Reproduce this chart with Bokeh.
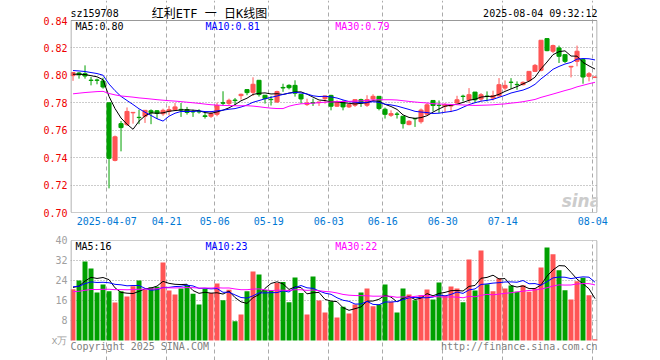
import numpy as np
import pandas as pd
from bokeh.plotting import figure
from bokeh.layouts import column
from bokeh.models import (Range1d, FixedTicker, NumeralTickFormatter, Label,
                          Grid, ColumnDataSource)
from bokeh.embed import file_html
from bokeh.resources import INLINE

# ---------------- data ----------------
holidays = ["2025-04-04", "2025-05-01", "2025-05-02", "2025-05-05", "2025-06-02"]
dates = [d.strftime("%Y-%m-%d") for d in pd.bdate_range("2025-03-27", "2025-08-04")
         if d.strftime("%Y-%m-%d") not in holidays]

tick_dates = ["2025-04-07", "2025-04-21", "2025-05-06", "2025-05-19", "2025-06-03",
              "2025-06-16", "2025-06-30", "2025-07-14", "2025-08-04"]
tick_labels = ["2025-04-07", "04-21", "05-06", "05-19", "06-03",
               "06-16", "06-30", "07-14", "08-04"]

opens = [.7998, .8017, .8012, .7965, .7966, .7959, .7800, .7380, .7648, .7641,
         .7727, .7694, .7702, .7742, .7742, .7720, .7738, .7750, .7752, .7750,
         .7737, .7737, .7705, .7702, .7716, .7800, .7794, .7820, .7852, .7896,
         .7876, .7964, .7855, .7825, .7806, .7912, .7927, .7927, .7862, .7787,
         .7801, .7801, .7830, .7854, .7775, .7806, .7770, .7782, .7823, .7782,
         .7828, .7847, .7753, .7709, .7718, .7702, .7641, .7686, .7662, .7717,
         .7817, .7782, .7775, .7776, .7798, .7848, .7822, .7878, .7827, .7849,
         .7834, .7851, .7907, .7950, .7934, .7932, .7961, .8029, .8037, .8268,
         .8176, .8200, .8151, .8061, .8102, .8115, .7993, .7985]
highs = [.8025, .8024, .8073, .7988, .7976, .7983, .7802, .7561, .7667, .7766,
         .7730, .7750, .7745, .7752, .7747, .7757, .7777, .7799, .7799, .7770,
         .7750, .7753, .7733, .7740, .7801, .7884, .7830, .7835, .7867, .7896,
         .7986, .7964, .7855, .7850, .7888, .7939, .7935, .7964, .7862, .7830,
         .7830, .7806, .7850, .7858, .7818, .7818, .7794, .7823, .7830, .7855,
         .7862, .7847, .7765, .7745, .7733, .7702, .7673, .7686, .7758, .7798,
         .7817, .7817, .7798, .7780, .7851, .7859, .7907, .7878, .7871, .7883,
         .7888, .7980, .7963, .7980, .7956, .7956, .8029, .8083, .8256, .8268,
         .8224, .8217, .8151, .8066, .8217, .8115, .8024, .7993]
lows = [.7960, .7976, .7976, .7927, .7935, .7903, .7176, .7373, .7446, .7631,
        .7648, .7644, .7653, .7644, .7682, .7705, .7709, .7745, .7697, .7714,
        .7697, .7721, .7685, .7690, .7702, .7777, .7782, .7782, .7823, .7855,
        .7850, .7845, .7794, .7780, .7799, .7880, .7898, .7845, .7794, .7777,
        .7777, .7777, .7794, .7745, .7770, .7745, .7762, .7770, .7770, .7770,
        .7818, .7745, .7685, .7697, .7685, .7612, .7636, .7624, .7648, .7712,
        .7737, .7724, .7732, .7732, .7798, .7810, .7798, .7798, .7810, .7810,
        .7817, .7846, .7890, .7902, .7895, .7927, .7956, .8024, .8029, .8176,
        .8163, .8090, .8090, .7985, .8066, .7939, .7956, .7980]
closes = [.8020, .8005, .7995, .7963, .7964, .7915, .7395, .7552, .7619, .7737,
          .7730, .7692, .7745, .7728, .7723, .7745, .7750, .7770, .7748, .7730,
          .7733, .7733, .7700, .7721, .7780, .7797, .7818, .7816, .7862, .7874,
          .7935, .7860, .7830, .7823, .7882, .7908, .7910, .7870, .7828, .7799,
          .7799, .7806, .7850, .7775, .7801, .7770, .7787, .7823, .7799, .7823,
          .7847, .7758, .7716, .7721, .7716, .7648, .7665, .7683, .7747, .7785,
          .7780, .7780, .7785, .7780, .7822, .7846, .7859, .7822, .7859, .7846,
          .7851, .7932, .7927, .7949, .7932, .7949, .8029, .8073, .8256, .8180,
          .8217, .8139, .8102, .8066, .8176, .7988, .8012, .7988]
volumes = [20.5, 24.0, 31.6, 28.8, 19.2, 22.4, 19.7, 15.2, 19.7, 17.6,
           21.7, 24.0, 20.3, 21.3, 21.5, 31.2, 20.0, 18.4, 20.8, 22.0,
           18.7, 14.4, 20.6, 19.0, 22.8, 16.1, 20.3, 7.7, 10.4, 19.7,
           27.6, 26.4, 20.2, 20.2, 23.0, 23.4, 15.3, 25.2, 19.0, 10.4,
           25.6, 16.0, 11.2, 15.7, 9.2, 13.5, 10.8, 14.4, 19.2, 20.8,
           13.7, 14.4, 22.4, 15.5, 11.2, 20.8, 18.4, 16.1, 18.1, 20.4,
           16.4, 23.2, 18.1, 21.6, 20.8, 15.3, 32.4, 20.0, 36.0, 22.5,
           19.7, 24.9, 20.8, 22.0, 19.5, 22.1, 19.5, 20.8, 29.2, 37.2,
           34.5, 28.1, 20.1, 16.4, 23.7, 25.1, 18.1, 0.5]

price_ma_prior = {5: 0.8005, 10: 0.8037, 30: 0.7860}
vol_ma_prior = {5: 21.4, 10: 21.6, 30: 19.5}

price_ma_text = ["MA5:0.80", "MA10:0.81", "MA30:0.79"]
vol_ma_text = ["MA5:16", "MA10:23", "MA30:22"]

price_ticks = [0.70, 0.72, 0.74, 0.76, 0.78, 0.80, 0.82, 0.84]
vol_ticks = [0, 8, 16, 24, 32, 40]

# ---------------- helpers ----------------
RED, GREEN = "#ff5555", "#00a000"
MONO = "DejaVu Sans Mono"
MA_COLORS = ["#000000", "#0000ff", "#ff00ff"]
BORDER = "#999999"


def moving_avg(vals, n, prior):
    ext = np.concatenate([np.full(n - 1, prior), np.asarray(vals, dtype=float)])
    return np.convolve(ext, np.ones(n) / n, mode="valid")


n = len(dates)
idx = np.arange(n)
xc = idx + 0.37  # candle centre, slightly right of the date grid line
up = np.array(closes) >= np.array(opens)
colors = [RED if u else GREEN for u in up]
tick_idx = [dates.index(d) for d in tick_dates]

src = ColumnDataSource(dict(
    x=xc, open=opens, high=highs, low=lows, close=closes,
    top=np.maximum(opens, closes), bottom=np.minimum(opens, closes),
    vol=volumes, color=colors))

PX_X = 6.0                      # px per session
XR = Range1d(-0.05, -0.05 + 527 / PX_X)
PX_P = 192 / (price_ticks[-1] - price_ticks[0])   # px per price unit
PX_V = 100 / (vol_ticks[-1] - vol_ticks[0])       # px per volume unit


def clean_axis(ax, color):
    ax.axis_line_color = None
    ax.major_tick_line_color = None
    ax.minor_tick_line_color = None
    ax.major_tick_out = 0
    ax.major_tick_in = 0
    ax.major_label_text_color = color
    ax.major_label_text_font = MONO
    ax.major_label_text_font_size = "10px"


def box(fig, lo, hi):
    fig.quad(left=XR.start + 0.5 / PX_X, right=XR.end - 0.5 / PX_X, bottom=lo, top=hi,
             fill_color=None, line_color=BORDER, line_width=1)


# ---------------- main price chart (frame extended up to hold the header) ----------------
p_top = price_ticks[-1] + 20 / PX_P
p = figure(width=660, height=232, x_range=XR, y_range=Range1d(price_ticks[0], p_top),
           output_backend="svg", toolbar_location=None, title=None,
           min_border_left=70, min_border_right=63, min_border_top=0,
           min_border_bottom=20)
p.background_fill_color = "white"
p.border_fill_color = "white"
p.outline_line_color = None

p.yaxis.ticker = FixedTicker(ticks=price_ticks)
p.yaxis.formatter = NumeralTickFormatter(format="0.00")
clean_axis(p.yaxis, "#ee0000")
p.yaxis.major_label_standoff = 3

p.xaxis.ticker = FixedTicker(ticks=tick_idx)
p.xaxis.major_label_overrides = {i: t for i, t in zip(tick_idx, tick_labels)}
clean_axis(p.xaxis, "#0078d4")
p.xaxis.major_label_standoff = 4

p.grid.visible = False
p.add_layout(Grid(dimension=0, ticker=FixedTicker(ticks=tick_idx),
                  bounds=(price_ticks[0], price_ticks[-1]),
                  grid_line_color="#aaaaaa", grid_line_dash="4 3", grid_line_width=1))
p.add_layout(Grid(dimension=1, ticker=FixedTicker(ticks=price_ticks[1:-1]),
                  grid_line_color="#999999", grid_line_dash="1 2", grid_line_width=1))

p.segment(x0="x", y0="low", x1="x", y1="high", line_color="color", line_width=1, source=src)
p.vbar(x="x", width=0.68, top="top", bottom="bottom", fill_color="color",
       line_color="color", line_width=1, source=src)

for (win, col) in zip((5, 10, 30), MA_COLORS):
    p.line(xc, moving_avg(closes, win, price_ma_prior[win]), line_color=col, line_width=1)

box(p, price_ticks[0], price_ticks[-1])

top_y = price_ticks[-1] + 7 / PX_P
p.add_layout(Label(x=XR.start, y=top_y, text="sz159708", text_font=MONO, text_font_size="10px",
                   text_color="black", text_align="left", text_baseline="middle"))
p.add_layout(Label(x=23.12, y=top_y, text="红利ETF 一 日K线图",
                   text_font="DejaVu Sans Mono, Noto Sans CJK SC",
                   text_font_size="12px", text_color="black", text_align="center",
                   text_baseline="middle"))
p.add_layout(Label(x=XR.end, y=top_y, text="2025-08-04 09:32:12", text_font=MONO,
                   text_font_size="10px", text_color="black", text_align="right",
                   text_baseline="middle"))
ma_y = price_ticks[-1] - 6 / PX_P
for txt, xx, col in zip(price_ma_text, (0.78, 22.45, 44.07), MA_COLORS):
    p.add_layout(Label(x=xx, y=ma_y, text=txt, text_font=MONO, text_font_size="10px",
                       text_color=col, text_align="left", text_baseline="middle"))
p.add_layout(Label(x=85.1, y=price_ticks[0] + 12 / PX_P, text="sina", text_font="DejaVu Sans",
                   text_font_style="bold italic", text_font_size="17px",
                   text_color="#cccccc", text_align="center", text_baseline="middle"))

# ---------------- volume chart (frame extended down to hold the footer) ----------------
v_bottom = vol_ticks[0] - 20 / PX_V
v = figure(width=660, height=128, x_range=XR, y_range=Range1d(v_bottom, vol_ticks[-1]),
           output_backend="svg", toolbar_location=None, title=None,
           x_axis_location=None,
           min_border_left=70, min_border_right=63, min_border_top=8,
           min_border_bottom=0)
v.background_fill_color = "white"
v.border_fill_color = "white"
v.outline_line_color = None

v.yaxis.ticker = FixedTicker(ticks=vol_ticks)
v.yaxis.major_label_overrides = {0: "x万"}
clean_axis(v.yaxis, "#a0a0a0")
v.yaxis.major_label_standoff = 3

v.grid.visible = False
v.add_layout(Grid(dimension=0, ticker=FixedTicker(ticks=tick_idx),
                  bounds=(vol_ticks[0], vol_ticks[-1]),
                  grid_line_color="#aaaaaa", grid_line_dash="4 3", grid_line_width=1))
v.add_layout(Grid(dimension=1, ticker=FixedTicker(ticks=vol_ticks[1:-1]),
                  grid_line_color="#999999", grid_line_dash="1 2", grid_line_width=1))

v.vbar(x="x", width=0.83, top="vol", bottom=0, fill_color="color", line_color=None, source=src)
for (win, col) in zip((5, 10, 30), MA_COLORS):
    v.line(xc, moving_avg(volumes, win, vol_ma_prior[win]), line_color=col, line_width=1)

# top / left / right border of the volume panel (no bottom line in the reference)
v.segment(x0=[XR.start + 0.5 / PX_X, XR.start + 0.5 / PX_X, XR.end - 0.5 / PX_X],
          y0=[vol_ticks[-1], vol_ticks[0], vol_ticks[0]],
          x1=[XR.end - 0.5 / PX_X, XR.start + 0.5 / PX_X, XR.end - 0.5 / PX_X],
          y1=[vol_ticks[-1], vol_ticks[-1], vol_ticks[-1]],
          line_color=BORDER, line_width=1)

vma_y = vol_ticks[-1] - 6 / PX_V
for txt, xx, col in zip(vol_ma_text, (0.78, 22.45, 44.07), MA_COLORS):
    v.add_layout(Label(x=xx, y=vma_y, text=txt, text_font=MONO, text_font_size="10px",
                       text_color=col, text_align="left", text_baseline="middle"))
foot_y = vol_ticks[0] - 5.5 / PX_V
v.add_layout(Label(x=XR.start, y=foot_y, text="Copyright 2025 SINA.COM", text_font=MONO,
                   text_font_size="10px", text_color="#808080", text_align="left",
                   text_baseline="middle"))
v.add_layout(Label(x=XR.end, y=foot_y, text="http://finance.sina.com.cn", text_font=MONO,
                   text_font_size="10px", text_color="#808080", text_align="right",
                   text_baseline="middle"))

layout = column(p, v)
open("out.html", "w").write(file_html(layout, INLINE))
